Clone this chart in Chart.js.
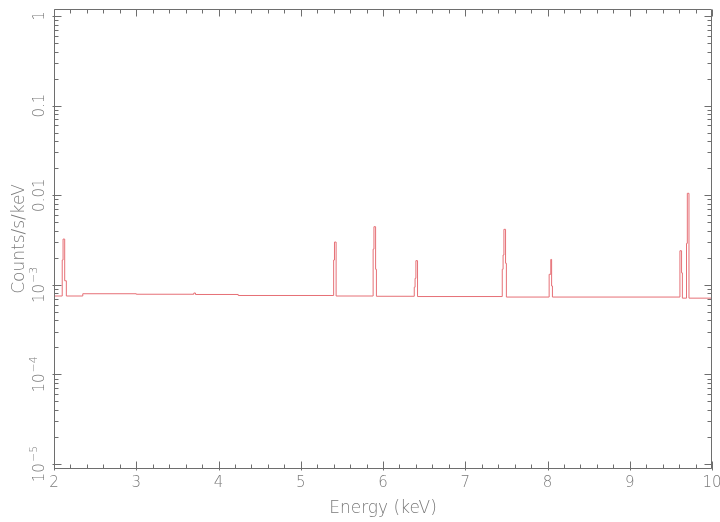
<!DOCTYPE html>
<html>
<head>
<meta charset="utf-8">
<title>Spectrum</title>
<script src="https://cdn.jsdelivr.net/npm/chart.js@4/dist/chart.umd.min.js"></script>
<style>
  body { margin: 0; background: #fff; }
  canvas { display: block; }
</style>
</head>
<body>
<canvas id="spectrum" width="720" height="522"></canvas>
<script>
// channel start energies (keV) and rate in each channel (counts/s/keV)
const energy = [
  2.00, 2.10, 2.11, 2.13, 2.15, 2.35, 3.00, 3.70, 3.72, 4.24,
  5.40, 5.41, 5.43, 5.88, 5.89, 5.91, 5.92,
  6.38, 6.39, 6.40, 6.42,
  7.45, 7.46, 7.47, 7.49, 7.50,
  8.02, 8.04, 8.05, 8.06,
  9.61, 9.63, 9.64, 9.69, 9.70, 9.72, 10.00
];
const counts = [
  7.5e-4, 1.89e-3, 3.24e-3, 1.11e-3, 7.5e-4, 7.95e-4, 7.85e-4, 8.1e-4, 7.8e-4, 7.6e-4,
  1.89e-3, 3.0e-3, 7.5e-4, 2.5e-3, 4.45e-3, 1.49e-3, 7.45e-4,
  9.4e-4, 1.18e-3, 1.86e-3, 7.4e-4,
  1.49e-3, 2.15e-3, 4.16e-3, 1.74e-3, 7.3e-4,
  1.31e-3, 1.92e-3, 9.7e-4, 7.3e-4,
  2.4e-3, 1.36e-3, 7.1e-4, 2.9e-3, 1.05e-2, 7.1e-4, 7.1e-4
];

const xTicks = [2, 3, 4, 5, 6, 7, 8, 9, 10];
const yTickValues = [1, 0.1, 0.01, 1e-3, 1e-4, 1e-5];
const yTickLabels = ['1', '0.1', '0.01', '10^-3', '10^-4', '10^-5'];
const xTitle = 'Energy (keV)';
const yTitle = 'Counts/s/keV';

const FONT_FAMILY = '"DejaVu Sans", "Liberation Sans", sans-serif';
const TEXT_COLOR = '#7a7a7a';
const FRAME_COLOR = '#6e6e6e';

// draws "10^-3" style labels, exponent raised and smaller
function drawPowerLabel(ctx, text, size) {
  const parts = text.split('^');
  ctx.font = '200 ' + size + 'px ' + FONT_FAMILY;
  const baseW = ctx.measureText(parts[0]).width;
  let expW = 0;
  if (parts.length > 1) {
    ctx.font = '200 ' + Math.round(size * 0.75) + 'px ' + FONT_FAMILY;
    expW = ctx.measureText(parts[1].replace('-', '\u2212')).width + 1;
  }
  const start = -(baseW + expW) / 2;
  ctx.textAlign = 'left';
  ctx.textBaseline = 'middle';
  ctx.font = '200 ' + size + 'px ' + FONT_FAMILY;
  ctx.fillText(parts[0], start, 0);
  if (parts.length > 1) {
    ctx.font = '200 ' + Math.round(size * 0.75) + 'px ' + FONT_FAMILY;
    ctx.fillText(parts[1].replace('-', '\u2212'), start + baseW + 1, -6);
  }
}

// box frame with inward ticks on all sides, plus labels
const framePlugin = {
  id: 'frame',
  afterDatasetsDraw(chart) {
    const ctx = chart.ctx;
    const area = chart.chartArea;
    const xs = chart.scales.x;
    const ys = chart.scales.y;
    const L = Math.round(area.left) + 0.5;
    const R = Math.round(area.right) - 0.5;
    const T = Math.round(area.top) + 0.5;
    const B = Math.round(area.bottom) - 0.5;

    ctx.save();
    ctx.strokeStyle = FRAME_COLOR;
    ctx.lineWidth = 1;
    ctx.beginPath();
    ctx.rect(L, T, R - L, B - T);

    // x ticks: major every 1 keV, minor every 0.2 keV
    for (let i = 0; i <= 40; i++) {
      const v = 2 + i * 0.2;
      const px = Math.round(xs.getPixelForValue(v)) + 0.5;
      const major = i % 5 === 0;
      const len = major ? 7 : 4;
      ctx.moveTo(px, B + (major ? 2 : 0));
      ctx.lineTo(px, B - len);
      ctx.moveTo(px, T);
      ctx.lineTo(px, T + len);
    }

    // y ticks: decades plus 2..9 minors
    for (let k = -6; k <= 0; k++) {
      for (let m = 1; m <= 9; m++) {
        const v = m * Math.pow(10, k);
        if (v < ys.min || v > ys.max) continue;
        const py = Math.round(ys.getPixelForValue(v)) + 0.5;
        const major = m === 1;
        const len = major ? 7 : 4;
        ctx.moveTo(L - (major ? 2 : 0), py);
        ctx.lineTo(L + len, py);
        ctx.moveTo(R, py);
        ctx.lineTo(R - len, py);
      }
    }
    ctx.stroke();

    ctx.fillStyle = TEXT_COLOR;

    // x tick labels
    ctx.font = '200 15px ' + FONT_FAMILY;
    ctx.textAlign = 'center';
    ctx.textBaseline = 'middle';
    xTicks.forEach(v => {
      ctx.fillText(String(v), xs.getPixelForValue(v), area.bottom + 14);
    });

    // y tick labels, rotated
    yTickValues.forEach((v, i) => {
      ctx.save();
      ctx.translate(40, ys.getPixelForValue(v));
      ctx.rotate(-Math.PI / 2);
      drawPowerLabel(ctx, yTickLabels[i], 15);
      ctx.restore();
    });

    // axis titles
    ctx.font = '200 17px ' + FONT_FAMILY;
    ctx.textAlign = 'center';
    ctx.textBaseline = 'middle';
    ctx.fillText(xTitle, (area.left + area.right) / 2, area.bottom + 40);
    ctx.save();
    ctx.translate(20, (area.top + area.bottom) / 2);
    ctx.rotate(-Math.PI / 2);
    ctx.fillText(yTitle, 0, 0);
    ctx.restore();

    ctx.restore();
  }
};

const points = energy.map((e, i) => ({ x: e, y: counts[i] }));

new Chart(document.getElementById('spectrum'), {
  type: 'line',
  data: {
    datasets: [{
      data: points,
      stepped: true,
      borderColor: 'rgb(230, 112, 118)',
      borderWidth: 1,
      pointRadius: 0,
      fill: false
    }]
  },
  options: {
    responsive: false,
    animation: false,
    layout: { padding: { left: 54, right: 8, top: 9, bottom: 53 } },
    scales: {
      x: { type: 'linear', min: 2, max: 10, display: false },
      y: { type: 'logarithmic', min: 8.8e-6, max: 1.197, display: false }
    },
    plugins: {
      legend: { display: false },
      tooltip: { enabled: false }
    }
  },
  plugins: [framePlugin]
});
</script>
</body>
</html>
